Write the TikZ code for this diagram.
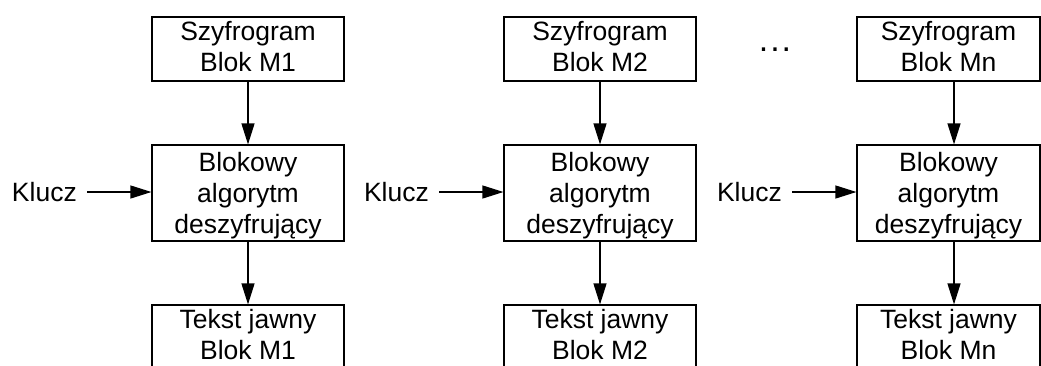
\documentclass[tikz,border=0pt]{standalone}
\usepackage{fontspec}
\setmainfont{Liberation Sans}
\usetikzlibrary{arrows.meta}
\begin{document}
\begin{tikzpicture}[x=1pt,y=-1pt,
  every node/.style={font=\fontsize{26.5}{31}\selectfont},
  blk/.style={draw,line width=1.2pt,inner sep=0pt,align=center,minimum width=192pt},
  smallblk/.style={blk,minimum height=64pt,text depth=5pt},
  bigblk/.style={blk,minimum height=96pt,text depth=0pt},
  lbl/.style={inner sep=0pt,anchor=east},
  arr/.style={line width=1.2pt,-{Triangle[length=21pt,width=13pt]}}]
\useasboundingbox (0,0) rectangle (1041,365);
% column 1
\node[smallblk] (t1) at (248,49) {Szyfrogram\\Blok M1};
\node[bigblk] (m1) at (248,193) {Blokowy\\algorytm\\deszyfrujący};
\node[smallblk] (b1) at (248,337) {Tekst jawny\\Blok M1};
\node[lbl] (k1) at (77,192) {Klucz};
% column 2
\node[smallblk] (t2) at (600,49) {Szyfrogram\\Blok M2};
\node[bigblk] (m2) at (600,193) {Blokowy\\algorytm\\deszyfrujący};
\node[smallblk] (b2) at (600,337) {Tekst jawny\\Blok M2};
\node[lbl] (k2) at (429,192) {Klucz};
% column 3
\node[smallblk,minimum width=183pt] (t3) at (948.5,49) {Szyfrogram\\Blok Mn};
\node[bigblk,minimum width=183pt] (m3) at (948.5,193) {Blokowy\\algorytm\\deszyfrujący};
\node[smallblk,minimum width=183pt] (b3) at (948.5,337) {Tekst jawny\\Blok Mn};
\node[lbl] (k3) at (782,192) {Klucz};
% dots
\node[inner sep=0pt,font=\fontsize{34}{34}\selectfont] (dots) at (775,50) {.\kern2pt.\kern2pt.};
% arrows
\foreach \i in {1,2} {
  \draw[arr] (t\i.south) -- (m\i.north);
  \draw[arr] (m\i.south) -- (b\i.north);
  \draw[arr,shorten <=10pt] (k\i.east) -- (k\i.east -| m\i.west);
}
\draw[arr] ([xshift=5.5pt]t3.south) -- ([xshift=5.5pt]m3.north);
\draw[arr] ([xshift=5.5pt]m3.south) -- ([xshift=5.5pt]b3.north);
\draw[arr,shorten <=10pt] (k3.east) -- (k3.east -| m3.west);
\end{tikzpicture}
\end{document}
